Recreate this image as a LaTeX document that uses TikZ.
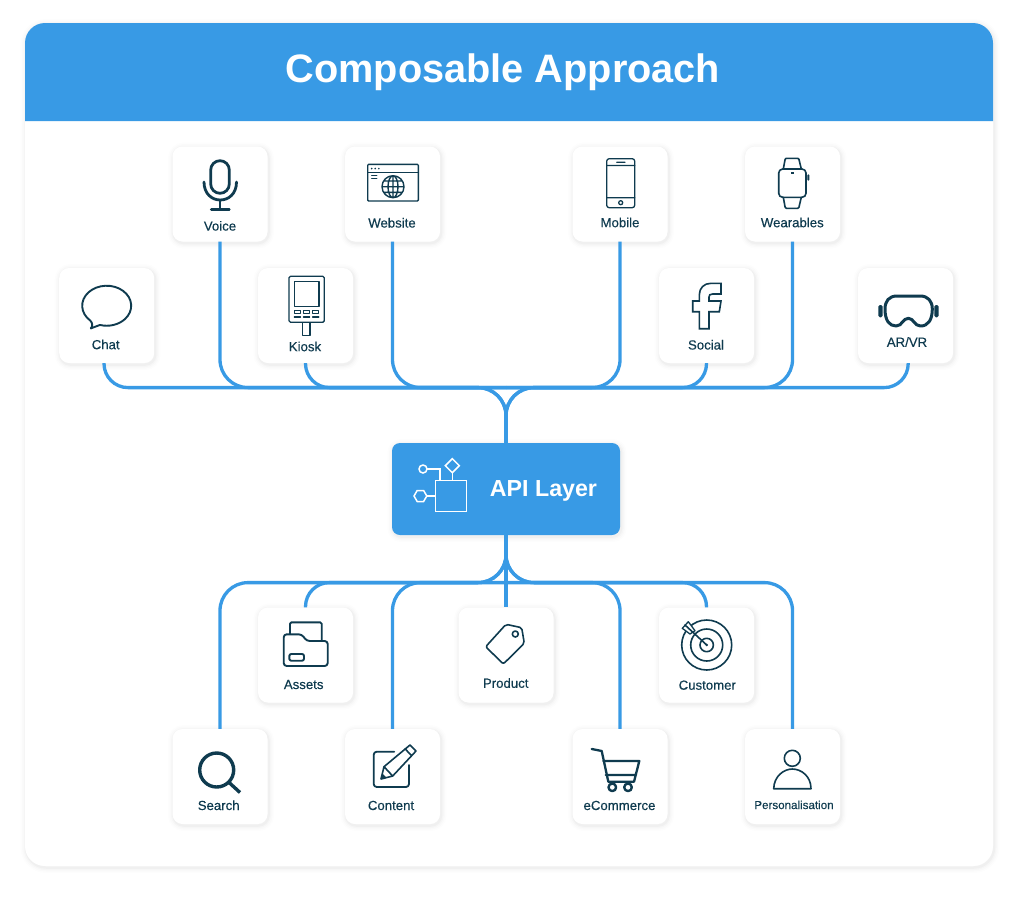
\documentclass[tikz,border=0pt]{standalone}
\usepackage{fontspec}
\setmainfont{Liberation Sans}
\newfontfamily\cardfont[FakeBold=0.25]{Liberation Sans}
\definecolor{apiblue}{HTML}{389AE5}
\definecolor{iconink}{HTML}{0F3B4F}
\tikzset{
	softshadow/.style={
			preaction={draw=black,draw opacity=.009,line width=11pt,transform canvas={shift={(1pt,-1.5pt)}}},
			preaction={draw=black,draw opacity=.012,line width=8pt,transform canvas={shift={(1pt,-1.5pt)}}},
			preaction={draw=black,draw opacity=.016,line width=5pt,transform canvas={shift={(1pt,-1.5pt)}}},
			preaction={draw=black,draw opacity=.022,line width=2.5pt,transform canvas={shift={(1pt,-1.5pt)}}},
		},
	cardbox/.style={
			fill=white,rounded corners=10pt,inner sep=0pt,
			minimum width=95pt,minimum height=95pt,softshadow,
		},
	cardtext/.style={
			text=iconink,font=\cardfont\fontsize{13.2}{15}\selectfont,inner sep=0pt,anchor=base,
		},
	wire/.style={
			draw=apiblue,line width=3.3pt,
		},
	icon/.style={
			draw=iconink,line width=1.6pt,line join=round,line cap=round,
		},
	apiicon/.style={
			draw=white,line width=1.5pt,
		},
}
\begin{document}
\begin{tikzpicture}[x=1pt,y=-1pt]
	\useasboundingbox (0,0) rectangle (1024,902);
	\node[fill=white,rounded corners=20pt,minimum width=968pt,minimum height=843pt,inner sep=0pt,softshadow] (frame) at (509,444.5) {};
	\fill[apiblue] (25,121) -- (25,43) arc[start angle=180,end angle=270,radius=20] -- (973,23) arc[start angle=270,end angle=360,radius=20] -- (993,121) -- cycle;
	\node[text=white,font=\fontsize{39.7}{45}\bfseries\selectfont,inner sep=0pt,anchor=base] (title) at (503,82) {Composable Approach};

	\foreach \name/\x/\y/\tx/\ty/\txt in {
			chat/106.7/315.5/105.7/349.2/Chat,
			voice/220/194/220/230.6/Voice,
			kiosk/305.5/315.5/305/351.2/Kiosk,
			website/392.5/194/392/227.5/Website,
			mobile/620/194/620/227.2/Mobile,
			social/706.5/315.5/706/349.5/Social,
			wearables/792.5/194/792.3/227.2/Wearables,
			arvr/905.5/315.5/907/346.8/AR\slash VR,
			assets/305.5/655/303.7/689/Assets,
			product/506/655/505.7/687.8/Product,
			customer/706.5/655/707.3/689.7/Customer,
			search/220/776.5/218.7/810/Search,
			content/392.5/776.5/391/810/Content,
			ecommerce/620/776.5/619.5/810/eCommerce} {
			\node[cardbox] (\name) at (\x,\y) {};
			\node[cardtext] (\name text) at (\tx,\ty) {\txt};
		}
	\node[cardbox] (personal) at (792.5,776.5) {};
	\node[cardtext,font=\cardfont\fontsize{11.6}{13}\selectfont] (personal text) at (794,809) {Personalisation};

	\node[fill=apiblue,rounded corners=8pt,minimum width=228pt,minimum height=92pt,inner sep=0pt,softshadow] (api) at (506,489) {};
	\node[text=white,font=\fontsize{23.2}{28}\bfseries\selectfont,inner sep=0pt,anchor=base] (api text) at (543.5,496) {API Layer};

	\coordinate (hubtop) at (506,387.6);
	\coordinate (hubbot) at (506,582.6);

	\foreach \name in {voice,website,mobile,wearables} {
			\draw[wire,rounded corners=28pt] (\name.south) |- (hubtop) -- (api.north);
		}
	\foreach \name in {kiosk,social} {
			\draw[wire,rounded corners=24pt] (\name.south) |- (hubtop);
		}
	\draw[wire,rounded corners=24pt] ([xshift=-2.7pt]chat.south) |- (hubtop);
	\draw[wire,rounded corners=24pt] ([xshift=2.7pt]arvr.south) |- (hubtop);
	\foreach \name in {search,content,ecommerce,personal} {
			\draw[wire,rounded corners=28pt] (\name.north) |- (hubbot) -- (api.south);
		}
	\foreach \name in {assets,customer} {
			\draw[wire,rounded corners=24pt] (\name.north) |- (hubbot);
		}
	\draw[wire] (api.south) -- (product.north);

	\draw[icon,line width=1.9pt] (90.3,320.6) arc[start angle=132,end angle=466,x radius=24.5,y radius=20] -- (90.8,328.4) .. controls (93,326) and (92.5,323) .. cycle;

	\draw[icon,line width=2.8pt] (210.7,170) arc[start angle=180,end angle=360,radius=9.3] -- (229.3,184) arc[start angle=0,end angle=180,radius=9.3] -- cycle;
	\draw[icon,line width=2.8pt] (204,182) .. controls (204,206) and (236.5,206) .. (236.5,182);
	\draw[icon,line width=2.8pt] (220,200) -- (220,209.3) (211.3,209.3) -- (229.3,209.3);

	\draw[icon,line width=1.4pt,rounded corners=1pt] (367.7,164.3) rectangle (418.3,201);
	\draw[icon,line width=1.4pt] (367.7,172.3) -- (418.3,172.3) (371.7,175.7) -- (376.7,175.7) (371.7,178.7) -- (376.7,178.7);
	\foreach \x in {371.7,375.2,378.8} {
			\fill[iconink] (\x,168.6) circle[radius=.9];
		}
	\draw[icon,line width=1.4pt] (393,186.7) circle[radius=11] (393,186.7) ellipse[x radius=5,y radius=11] (393,175.7) -- (393,197.7) (382,186.7) -- (404,186.7) (384,181) -- (402,181) (384,192.4) -- (402,192.4);

	\draw[icon,line width=1.3pt,rounded corners=1.5pt] (289,276.3) rectangle (324.3,322.3);
	\draw[icon,line width=1.3pt] (294.3,281.7) rectangle (319,306.7) (302.7,322.3) rectangle (310,335.3);
	\foreach \x in {294.3,303.4,312.6} {
			\draw[icon,line width=1.2pt] (\x,310.3) rectangle (\x+6.2,313.7) (\x,317) -- (\x+6.2,317);
		}

	\draw[icon,line width=1.3pt,rounded corners=2.5pt] (606.7,158.7) rectangle (634.7,207.7);
	\draw[icon,line width=1.3pt] (606.7,165.5) -- (634.7,165.5) (606.7,197.7) -- (634.7,197.7) (616.7,162.2) -- (625,162.2) (620.7,202.7) circle[radius=2];

	\draw[icon,rounded corners=4pt] (778.7,169) rectangle (806,197.3);
	\draw[icon,rounded corners=1pt] (783.3,169) -- (785.3,158.3) -- (798.7,158.3) -- (801.3,169) (783.3,197.3) -- (785.3,208.3) -- (798.7,208.3) -- (801.3,197.3);
	\fill[iconink] (790.6,172) rectangle (794,173.6);
	\fill[iconink,rounded corners=.8pt] (807.4,174.3) rectangle (809.3,180.7);

	\draw[icon,line join=miter] (721,283.3) -- (721,294) -- (712.7,294) .. controls (710,294) and (709,295) .. (709,297) -- (709,301) -- (721,301) -- (719.3,311.7) -- (709,311.7) -- (709,328.7) -- (699.3,328.7) -- (699.3,311.7) -- (692.7,311.7) -- (692.7,301) -- (699.3,301) -- (699.3,295) .. controls (699.3,288) and (704,283.3) .. (711,283.3) -- cycle;

	\draw[icon,line width=3pt] (897,296) -- (920,296) .. controls (928,296) and (932.3,301) .. (932.3,309) .. controls (932.3,320) and (928,326) .. (920.5,326) .. controls (914,326) and (914,318.3) .. (908.3,318.3) .. controls (902.5,318.3) and (902.5,326) .. (896,326) .. controls (889,326) and (885,320) .. (885,309) .. controls (885,301) and (889,296) .. (897,296) -- cycle;
	\fill[iconink,rounded corners=1.5pt] (878.3,305) rectangle (882.5,317.3) (934.3,305) rectangle (938.5,317.3);

	\draw[icon,line width=1.9pt,rounded corners=1.5pt] (290,634) -- (290,622.3) -- (321.7,622.3) -- (321.7,640);
	\draw[icon,line width=1.9pt,rounded corners=3pt] (283.7,634.3) -- (301.7,634.3) -- (306.7,641) -- (327.7,641) -- (327.7,666) -- (283.7,666) -- cycle;
	\draw[icon,line width=1.9pt,rounded corners=2pt] (289.3,654) rectangle (304,660.7);

	\draw[icon,rounded corners=2pt] (506,624.3) -- (521.7,627.7) -- (524.3,643.3) -- (503.3,664) -- (485.7,646.7) -- cycle;
	\draw[icon] (515.3,634) circle[radius=3];

	\draw[icon,line width=3.4pt,line cap=butt] (216.7,770) circle[radius=17] (228.5,782) -- (240,792.5);

	\draw[icon,line width=1.8pt,rounded corners=3pt] (394.3,751.7) -- (373.7,751.7) -- (373.7,787) -- (409,787) -- (409,765);
	\draw[icon,line width=1.6pt] (381,779) -- (384,766.7) -- (410,745) -- (416,751) -- (392.7,776) -- cycle (405,748.8) -- (411.7,755.7) (384,766.7) -- (392.7,776);
	\fill[iconink] (381,779) -- (382.3,773.5) -- (386.5,777.5) -- cycle;

	\draw[icon,line width=2.3pt] (591.7,749) -- (601.7,751) -- (608.3,781.7) -- (634,781.7) -- (639.3,761) -- (603.3,761) (605.7,775) -- (636,775);
	\draw[icon,line width=2.4pt] (612.3,787.3) circle[radius=3.8] (628,787.3) circle[radius=3.8];

	\draw[icon] (706.7,645) circle[radius=25] (706.7,645) circle[radius=16] (706.7,645) circle[radius=6.7];
	\draw[icon,fill=white,line width=1.3pt] (682.3,628.3) -- (688.3,621.7) -- (695,630.7) -- (690,634) -- cycle;
	\draw[icon] (706.7,645) -- (685,625);
	\fill[iconink] (706.7,645) circle[radius=1.3];

	\draw[icon] (792.3,758.3) circle[radius=8];
	\draw[icon] (773.7,788.7) .. controls (774,776) and (784,769) .. (792.3,769) .. controls (801,769) and (811,776) .. (811,788.7) -- cycle;

	\draw[apiicon] (435.7,480.3) rectangle (466.7,511.7);
	\draw[apiicon] (423,469) circle[radius=4];
	\draw[apiicon] (427,469) -- (440,469) -- (440,480.3);
	\draw[apiicon] (452.3,458.7) -- (459.3,465.7) -- (452.3,472.7) -- (445.3,465.7) -- cycle;
	\draw[apiicon] (452.3,472.7) -- (452.3,480.3);
	\draw[apiicon] (414,496) -- (417.2,490.5) -- (423.6,490.5) -- (426.8,496) -- (423.6,501.5) -- (417.2,501.5) -- cycle;
	\draw[apiicon] (426.8,496) -- (435.7,496);
\end{tikzpicture}
\end{document}
